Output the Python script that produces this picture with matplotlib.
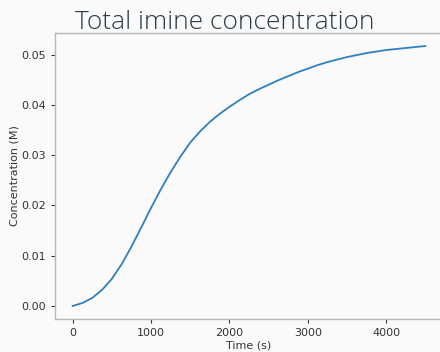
import numpy as np
import pandas as pd
import matplotlib
matplotlib.use('Agg')
import matplotlib.pyplot as plt

# values
time_s = [0, 125, 250, 375, 500, 625, 750, 875, 1000, 1125, 1250, 1375, 1500,
          1625, 1750, 1875, 2000, 2125, 2250, 2375, 2500, 2625, 2750, 2875,
          3000, 3125, 3250, 3375, 3500, 3625, 3750, 3875, 4000, 4125, 4250,
          4375, 4500]
imine_M = [0.0, 0.0006, 0.0016, 0.0032, 0.0054, 0.0083, 0.0118, 0.0156, 0.0195,
           0.0232, 0.0266, 0.0297, 0.0325, 0.0347, 0.0366, 0.0382, 0.0396,
           0.0409, 0.0421, 0.0431, 0.0440, 0.0449, 0.0457, 0.0465, 0.0472,
           0.0479, 0.0485, 0.0490, 0.0495, 0.0499, 0.0503, 0.0506, 0.0509,
           0.0511, 0.0513, 0.0515, 0.0517]

df = pd.DataFrame({'t': time_s, 'c': imine_M})

bg = '#fafafa'
spine_col = '#b8b8b8'
txt_col = '#333333'

fig = plt.figure(figsize=(4.4, 3.52), dpi=100, facecolor=bg)
ax = fig.add_axes([55/440, 33/352, 388/440, 286/352], facecolor=bg)

ax.plot(df['t'], df['c'], color='#2f7fc1', lw=1.3)

ax.set_xticks([0, 1000, 2000, 3000, 4000])
ax.set_yticks([0.0, 0.01, 0.02, 0.03, 0.04, 0.05])
ax.yaxis.set_major_formatter(matplotlib.ticker.FormatStrFormatter('%.2f'))
ax.tick_params(labelsize=8, colors=txt_col, length=3, width=0.8)
for s in ax.spines.values():
    s.set_color(spine_col)
    s.set_linewidth(1.0)

ax.set_xlabel('Time (s)', fontsize=8, color=txt_col, labelpad=2)
ax.set_ylabel('Concentration (M)', fontsize=8, color=txt_col, labelpad=1)

fig.text(75/440, 1 - 29/352, 'Total imine concentration', fontsize=19,
         family='Open Sans', weight='light', color='#2b3b44', ha='left',
         va='baseline')

fig.savefig('out.png', dpi=100, facecolor=bg)
